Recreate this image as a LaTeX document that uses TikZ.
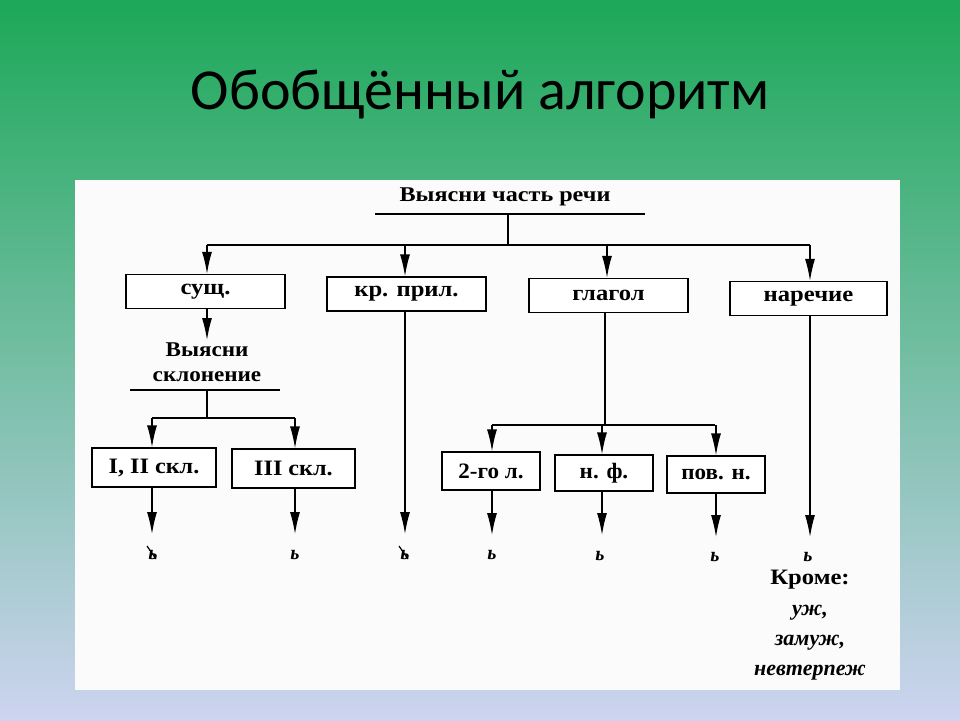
\documentclass[tikz,border=0pt]{standalone}
\usepackage{fontspec}
\setmainfont{Liberation Serif}
\newfontfamily\titlefont{Carlito}
\usetikzlibrary{arrows.meta}
\definecolor{gtop}{RGB}{28,168,88}
\definecolor{gmid}{RGB}{140,205,180}
\definecolor{gbot}{RGB}{205,212,240}
\tikzset{
  bx/.style={draw,line width=1.3pt,fill=white,minimum height=34pt,font=\bfseries\fontsize{22}{24}\selectfont,inner sep=0pt},
  ln/.style={line width=1.3pt},
  ar/.style={line width=1.3pt,-{Latex[length=22pt,width=10pt]}},
  lbl/.style={font=\bfseries\fontsize{21}{25}\selectfont,align=center},
  sg/.style={font=\itshape\bfseries\fontsize{20}{22}\selectfont}
}
\begin{document}
\begin{tikzpicture}[x=1pt,y=-1pt]
\useasboundingbox (0,0) rectangle (960,720);
\shade[top color=gtop,middle color=gmid,bottom color=gbot] (0,0) rectangle (960,720);
\fill[white!97!gray] (75,180) rectangle (900,690);
\node[font=\titlefont\fontsize{58}{62}\selectfont] (title) at (480,95) {Обобщённый алгоритм};

\node[lbl,xscale=1.15] (head) at (505,197) {Выясни часть речи};
\coordinate (hu) at (508,214);
\draw[ln] (375,214) -- (645,214);
\coordinate (hj) at (508,245);
\draw[ln] (hu) -- (hj);
\draw[ln] (207,245) -- (810,245);

\node[bx,minimum width=159pt] (n) at (205.5,291.5) {\scalebox{1.12}[1]{сущ.}};
\node[bx,minimum width=159pt] (a) at (406.5,294) {\scalebox{1.12}[1]{кр. прил.}};
\node[bx,minimum width=159pt] (v) at (608.5,295.5) {\scalebox{1.12}[1]{глагол}};
\node[bx,minimum width=157pt] (d) at (808.5,298.5) {\scalebox{1.12}[1]{наречие}};
\draw[ar] (207,245) -- (n.north-|207,0);
\draw[ar] (405,245) -- (a.north-|405,0);
\draw[ar] (607,245) -- (v.north-|607,0);
\draw[ar] (810,245) -- (d.north-|810,0);

\node[lbl] (skl) at (207,362) {\scalebox{1.1}[1]{Выясни}\\\scalebox{1.1}[1]{склонение}};
\draw[ar] (n.south-|207,0) -- (207,340);
\draw[ln] (130,390) -- (280,390);
\draw[ln] (207,390) -- (207,418);
\draw[ln] (152,418) -- (295,418);

\node[bx,minimum width=124pt,minimum height=39pt] (s1) at (154,467.5) {\scalebox{1.1}[1]{I, II скл.}};
\node[bx,minimum width=123pt,minimum height=39pt] (s3) at (293.5,468.5) {\scalebox{1.1}[1]{III скл.}};
\draw[ar] (152,418) -- (s1.north-|152,0);
\draw[ar] (295,418) -- (s3.north-|295,0);

\draw[ln] (v.south-|605,0) -- (605,425);
\draw[ln] (492,425) -- (715,425);
\node[bx,minimum width=98pt,minimum height=38pt] (g1) at (491,471) {\scalebox{1.05}[1]{2-го л.}};
\node[bx,minimum width=98pt,minimum height=36pt] (g2) at (604,473) {\scalebox{1.05}[1]{н. ф.}};
\node[bx,minimum width=98pt,minimum height=37pt] (g3) at (716,474.5) {\scalebox{1.05}[1]{пов. н.}};
\draw[ar] (492,425) -- (g1.north-|492,0);
\draw[ar] (602,425) -- (g2.north-|602,0);
\draw[ar] (716,425) -- (g3.north-|716,0);

\node[sg] (e1) at (153,555) {ь};
\node[sg] (e2) at (295,555) {ь};
\node[sg] (e3) at (405,555) {ь};
\node[sg] (e4) at (492,555) {ь};
\node[sg] (e5) at (600,556) {ь};
\node[sg] (e6) at (715,557) {ь};
\node[sg] (e7) at (808,557) {ь};
\draw[line width=1.2pt] ([xshift=-6pt,yshift=9pt]e1.center) -- ([xshift=3pt,yshift=-4pt]e1.center);
\draw[line width=1.2pt] ([xshift=-6pt,yshift=9pt]e3.center) -- ([xshift=3pt,yshift=-4pt]e3.center);

\draw[ar] (s1.south-|152,0) -- (152,534);
\draw[ar] (s3.south-|295,0) -- (295,534);
\draw[ar] (a.south-|405,0) -- (405,534);
\draw[ar] (g1.south-|492,0) -- (492,535);
\draw[ar] (g2.south-|602,0) -- (602,535);
\draw[ar] (g3.south-|716,0) -- (716,537);
\draw[ar] (d.south-|810,0) -- (810,537);

\node[font=\bfseries\fontsize{22}{24}\selectfont] (ex) at (810,580) {\scalebox{1.12}[1]{Кроме:}};
\node[font=\bfseries\itshape\fontsize{22}{24}\selectfont,align=center] (w) at (810,643) {уж,\\[6pt]замуж,\\[6pt]невтерпеж};
\end{tikzpicture}
\end{document}
